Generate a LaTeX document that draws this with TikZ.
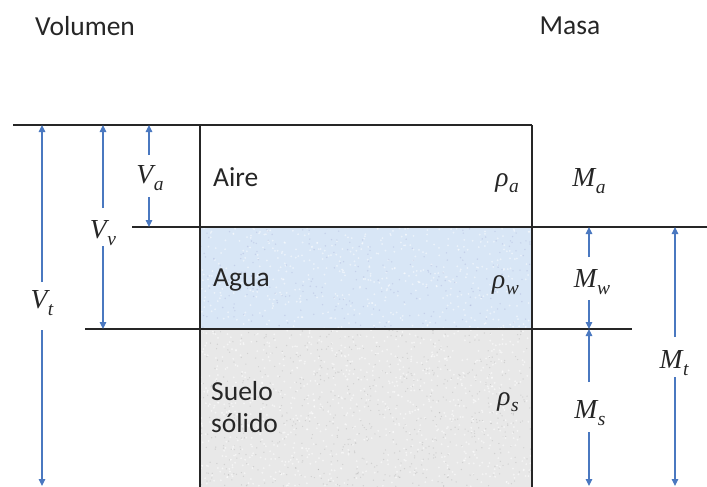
\documentclass[tikz,border=0pt]{standalone}
\usepackage{fontspec}
\setmainfont{Carlito}
\newfontfamily\lserif{Liberation Serif}
\usetikzlibrary{arrows.meta}
\definecolor{arrblue}{HTML}{4A78C0}
\definecolor{waterfill}{HTML}{D8E6F6}
\definecolor{soilfill}{HTML}{E8E8E8}
\newcommand\mvar[2]{{\lserif\itshape #1\kern0.02em\raisebox{-0.24em}{\fontsize{19.5}{20}\selectfont #2}}}
\begin{document}
\begin{tikzpicture}[x=1pt,y=-1pt,
  arr/.style={draw=arrblue, line width=1.1pt, -{Triangle[length=7pt,width=6.5pt]}},
  sepline/.style={draw=black!85, line width=1.3pt},
  txt/.style={font=\fontsize{27.5}{32}\selectfont, inner sep=0pt, text=black!85},
  mlab/.style={font=\fontsize{27.5}{30}\selectfont, inner sep=0pt, text=black!85}]
\useasboundingbox (0,0) rectangle (707,487);
% fills
\fill[waterfill] (200,227) rectangle (532,329);
\fill[soilfill] (200,329) rectangle (532,487);
\begin{scope}
\clip (200,227) rectangle (532,487);
\pgfmathsetseed{11}
\foreach \i in {1,...,500}{\fill[white,opacity=0.5] (200+rnd*332,227+rnd*102) circle (1pt);}
\foreach \i in {1,...,250}{\fill[blue!30!gray,opacity=0.15] (200+rnd*332,227+rnd*102) circle (0.8pt);}
\foreach \i in {1,...,900}{\fill[white,opacity=0.55] (200+rnd*332,329+rnd*158) circle (1pt);}
\foreach \i in {1,...,700}{\fill[gray,opacity=0.22] (200+rnd*332,329+rnd*158) circle (0.7pt);}
\end{scope}
% lines
\draw[sepline] (13,125) -- (532,125);
\draw[sepline] (200,125) -- (200,487);
\draw[sepline] (532,125) -- (532,487);
\draw[sepline] (132,227) -- (707,227);
\draw[sepline] (85,329) -- (632,329);
% headers
\node[txt] (vol) at (85,26) {Volumen};
\node[txt] (masa) at (570,26) {Masa};
% phase labels
\node[txt, anchor=west] (aire) at (213,177) {Aire};
\node[txt, anchor=west] (agua) at (213,280) {Agua};
\node[txt, anchor=base west] (suelo1) at (211,400) {Suelo};
\node[txt, anchor=base west] (suelo2) at (211,432) {sólido};
\node[mlab, anchor=east] (rhoa) at (519,183) {\mvar{ρ}{a}};
\node[mlab, anchor=east] (rhow) at (519,285) {\mvar{ρ}{w}};
\node[mlab, anchor=east] (rhos) at (519,402) {\mvar{ρ}{s}};
% volume labels
\node[mlab] (Va) at (150,178) {\mvar{V}{a}};
\node[mlab] (Vv) at (103,233) {\mvar{V}{v}};
\node[mlab] (Vt) at (42,303) {\mvar{V}{t}};
% mass labels
\node[mlab] (Ma) at (589,181) {\mvar{M}{a}};
\node[mlab] (Mw) at (592,282) {\mvar{M}{w}};
\node[mlab] (Ms) at (590,413) {\mvar{M}{s}};
\node[mlab] (Mt) at (674,363) {\mvar{M}{t}};
% coordinates
\coordinate (vaA) at (149,155); \coordinate (vaT) at (149,125);
\coordinate (vaB) at (149,197); \coordinate (vaD) at (149,227);
\coordinate (vvA) at (103,208); \coordinate (vvT) at (103,125);
\coordinate (vvB) at (103,246); \coordinate (vvD) at (103,329);
\coordinate (vtA) at (42,282);  \coordinate (vtT) at (42,125);
\coordinate (vtB) at (42,330);  \coordinate (vtD) at (42,486);
\coordinate (mwA) at (589,257); \coordinate (mwT) at (589,227);
\coordinate (mwB) at (589,300); \coordinate (mwD) at (589,329);
\coordinate (msA) at (589,382); \coordinate (msT) at (589,329);
\coordinate (msB) at (589,432); \coordinate (msD) at (589,486);
\coordinate (mtA) at (675,337); \coordinate (mtT) at (675,227);
\coordinate (mtB) at (675,377); \coordinate (mtD) at (675,486);
% arrows
\draw[arr] (vaA) -- (vaT); \draw[arr] (vaB) -- (vaD);
\draw[arr] (vvA) -- (vvT); \draw[arr] (vvB) -- (vvD);
\draw[arr] (vtA) -- (vtT); \draw[arr] (vtB) -- (vtD);
\draw[arr] (mwA) -- (mwT); \draw[arr] (mwB) -- (mwD);
\draw[arr] (msA) -- (msT); \draw[arr] (msB) -- (msD);
\draw[arr] (mtA) -- (mtT); \draw[arr] (mtB) -- (mtD);
\end{tikzpicture}
\end{document}
